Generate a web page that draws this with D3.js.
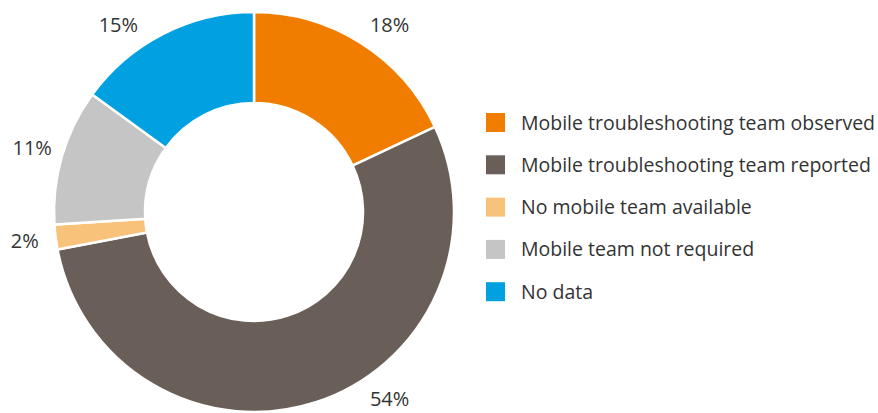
<!DOCTYPE html>
<html>
<head>
  <meta charset='utf-8'>
  <style>
  body { margin: 0; background: #fff; }
  text { font-family: 'Open Sans', sans-serif; fill: #333; }
  .slice { stroke: #fff; stroke-width: 2.5px; }
  </style>
</head>
<body>
<script src='https://cdnjs.cloudflare.com/ajax/libs/d3/7.8.5/d3.min.js'></script>
<script>

var categories = [
  'Mobile troubleshooting team observed',
  'Mobile troubleshooting team reported',
  'No mobile team available',
  'Mobile team not required',
  'No data'
];
var values = [18, 54, 2, 11, 15];
var colors = ['#f07d00', '#6a5e59', '#f8c27a', '#c5c5c5', '#00a0e1'];

var WIDTH = 878, HEIGHT = 413;
var cx = 254, cy = 212;
var outerR = 200, innerR = 109, labelR = 231;
var LEGEND_X = 486, LEGEND_TEXT_W = 354;

var data = categories.map(function(c, i) { return {name: c, value: values[i], color: colors[i]}; });

var svg = d3.select('body').append('svg')
    .attr('width', WIDTH)
    .attr('height', HEIGHT);

var g = svg.append('g').attr('transform', 'translate(' + cx + ',' + cy + ')');

var pie = d3.pie().sort(null).value(function(d) { return d.value; });
var arc = d3.arc().innerRadius(innerR).outerRadius(outerR);

var arcs = pie(data);

g.selectAll('path')
    .data(arcs)
  .enter().append('path')
    .attr('class', 'slice')
    .attr('fill', function(d) { return d.data.color; })
    .attr('d', arc);

// labels on a circle around the ring, kept inside the picture vertically
function labelPos(d) {
  var a = (d.startAngle + d.endAngle) / 2;
  var x = labelR * Math.sin(a), y = -labelR * Math.cos(a);
  var ymax = 187;
  if (Math.abs(y) > ymax) {
    y = ymax * Math.sign(y);
    x = Math.sign(x) * Math.sqrt(labelR * labelR - y * y);
  }
  return [x, y];
}

g.selectAll('text.pct')
    .data(arcs)
  .enter().append('text')
    .attr('class', 'pct')
    .attr('x', function(d) { return labelPos(d)[0]; })
    .attr('y', function(d) { return labelPos(d)[1]; })
    .attr('dy', '0.36em')
    .attr('text-anchor', 'middle')
    .style('font-size', '20px')
    .text(function(d) { return d.data.value + '%'; });

var legend = svg.append('g').attr('transform', 'translate(' + LEGEND_X + ',113)');

var row = legend.selectAll('g')
    .data(data)
  .enter().append('g')
    .attr('transform', function(d, i) { return 'translate(0,' + (i * 42.3) + ')'; });

row.append('rect')
    .attr('width', 19)
    .attr('height', 19)
    .attr('fill', function(d) { return d.color; });

var labels = row.append('text')
    .attr('x', 35)
    .attr('y', 9.5)
    .attr('dy', '0.36em')
    .style('font-size', '20px')
    .text(function(d) { return d.name; });

// shrink the legend font so the longest entry fits the same width as the reference
var longest = d3.max(labels.nodes(), function(n) { return n.getComputedTextLength(); });
labels.style('font-size', (20 * LEGEND_TEXT_W / longest).toFixed(2) + 'px');

</script>
</body>
</html>
